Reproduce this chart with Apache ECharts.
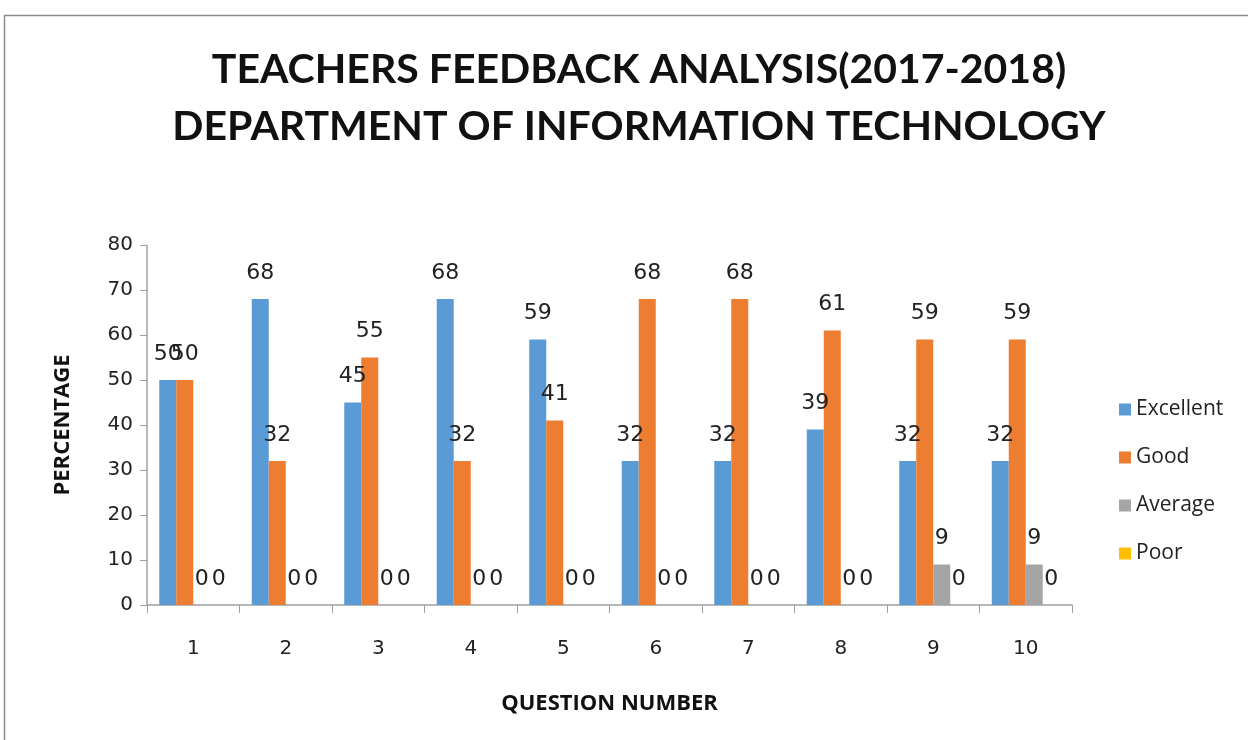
<!DOCTYPE html>
<html><head><meta charset="utf-8">
<script src="https://cdn.jsdelivr.net/npm/echarts@6/dist/echarts.min.js"></script>
<style>html,body{margin:0;padding:0;background:#fff}#c{width:1248px;height:740px}</style>
</head><body><div id="c"></div>
<script>
const categories = ['1','2','3','4','5','6','7','8','9','10'];
const excellent = [50,68,45,68,59,32,32,39,32,32];
const good = [50,32,55,32,41,68,68,61,59,59];
const average = [0,0,0,0,0,0,0,0,9,9];
const poor = [0,0,0,0,0,0,0,0,0,0];
const seriesNames = ['Excellent','Good','Average','Poor'];
const colors = ['#5B9BD5','#ED7D31','#A5A5A5','#FFC000'];
const titleText = 'TEACHERS FEEDBACK ANALYSIS(2017-2018)\nDEPARTMENT OF INFORMATION TECHNOLOGY';

const chart = echarts.init(document.getElementById('c'));
const data = [excellent, good, average, poor];
chart.setOption({
  animation: false,
  graphic: [{type:'rect', shape:{x:4.5,y:15.5,width:1400,height:900}, style:{fill:'none', stroke:'#8c8c8c', lineWidth:1.5}}],
  title: {
    text: titleText, left: 634, top: 36, textAlign: 'center',
    textStyle: {fontFamily:'Liberation Sans Narrow, Lato, sans-serif', fontWeight:'bold', fontSize:41, lineHeight:57, color:'#111'}
  },
  legend: {
    orient:'vertical', left:1114, top:394, itemWidth:12, itemHeight:12, itemGap:27, icon:'rect',
    textStyle:{fontFamily:'Open Sans, sans-serif', fontSize:21, color:'#222'},
    data: seriesNames
  },
  grid: {left:147, right:176, top:245, bottom:135, containLabel:false},
  xAxis: {
    type:'category', data:categories, boundaryGap:true,
    name:'QUESTION NUMBER', nameLocation:'middle', nameGap:88,
    nameTextStyle:{fontFamily:'Open Sans, sans-serif', fontWeight:'bold', fontSize:22, color:'#111'},
    axisLine:{lineStyle:{color:'#a0a0a0', width:1.5}},
    axisTick:{show:true, length:8, lineStyle:{color:'#a0a0a0'}},
    axisLabel:{fontFamily:'DejaVu Sans, sans-serif', fontSize:20, color:'#222', margin:34}
  },
  yAxis: {
    type:'value', min:0, max:80, interval:10,
    name:'PERCENTAGE', nameLocation:'middle', nameRotate:90, nameGap:73,
    nameTextStyle:{fontFamily:'Open Sans, sans-serif', fontWeight:'bold', fontSize:22, color:'#111'},
    axisLine:{show:true, lineStyle:{color:'#a0a0a0', width:1.5}},
    axisTick:{show:true, length:7, lineStyle:{color:'#a0a0a0'}},
    splitLine:{show:false},
    axisLabel:{fontFamily:'DejaVu Sans, sans-serif', fontSize:20, color:'#222', margin:14}
  },
  series: seriesNames.map((n,i)=>({
    name:n, type:'bar', data:data[i], barGap:'0%', barCategoryGap:'26.5%',
    itemStyle:{color:colors[i]},
    label:{show:true, position:'top', distance:15, fontFamily:'DejaVu Sans, sans-serif', fontSize:22, color:'#222'}
  }))
});
</script></body></html>
